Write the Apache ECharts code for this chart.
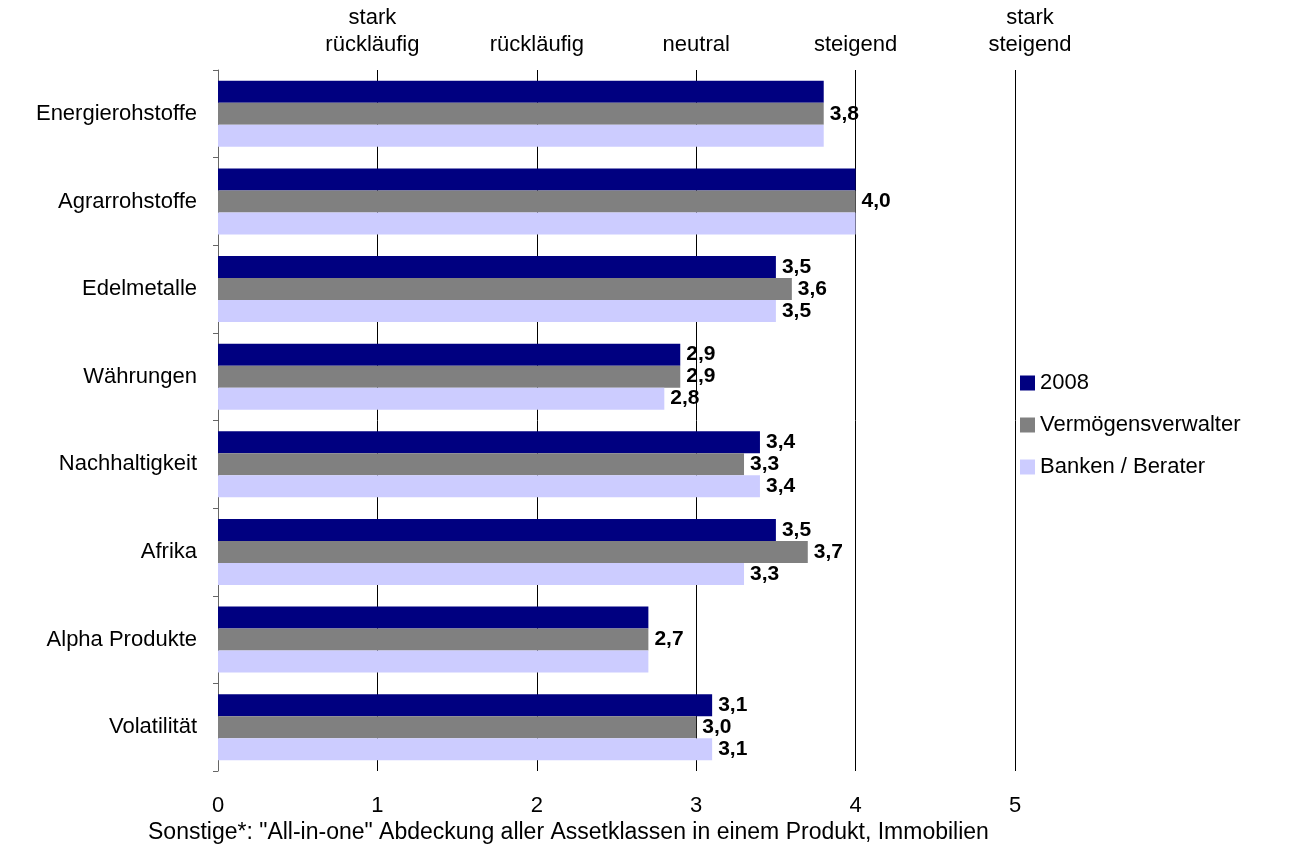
<!DOCTYPE html>
<html><head><meta charset="utf-8">
<script src="https://cdn.jsdelivr.net/npm/echarts@6/dist/echarts.min.js"></script>
<style>html,body{margin:0;padding:0;background:#fff}#c{width:1305px;height:850px}</style>
</head><body><div id="c"></div>
<script>
const categories = ["Energierohstoffe","Agrarrohstoffe","Edelmetalle","Währungen","Nachhaltigkeit","Afrika","Alpha Produkte","Volatilität"];
const seriesNames = ["2008","Vermögensverwalter","Banken / Berater"];
const values2008 = [3.8,4.0,3.5,2.9,3.4,3.5,2.7,3.1];
const valuesVerm = [3.8,4.0,3.6,2.9,3.3,3.7,2.7,3.0];
const valuesBank = [3.8,4.0,3.5,2.8,3.4,3.3,2.7,3.1];
const topLabels = {1:"stark\nrückläufig",2:"rückläufig",3:"neutral",4:"steigend",5:"stark\nsteigend"};
const colors = ["#000080","#808080","#CCCCFF"];
const footnote = 'Sonstige*: "All-in-one" Abdeckung aller Assetklassen in einem Produkt, Immobilien';

const all = [values2008, valuesVerm, valuesBank];
const FONT = "Liberation Sans";
const FS = 22;
function mkData(si){
  return all[si].map((v,i)=>{
    const same = all[0][i]===all[1][i] && all[1][i]===all[2][i];
    const show = same ? si===1 : true;
    return {value:v, label:{show:show}};
  });
}
const chart = echarts.init(document.getElementById('c'));
chart.setOption({
  animation:false,
  textStyle:{fontFamily:FONT},
  grid:{left:218,right:290,top:70,bottom:79,containLabel:false},
  legend:{
    orient:'vertical', left:1015, top:367, itemWidth:15, itemHeight:15, itemGap:20,
    icon:'rect', data:seriesNames,
    textStyle:{fontFamily:FONT,fontSize:FS,color:'#000',padding:[0,0,0,0]}
  },
  xAxis:[{
    type:'value', min:0, max:5, interval:1, position:'bottom',
    axisLine:{show:false}, axisTick:{show:false},
    splitLine:{show:true,lineStyle:{color:'#000',width:1}},
    axisLabel:{fontFamily:FONT,fontSize:FS,color:'#000',margin:24}
  },{
    type:'value', min:0, max:5, interval:1, position:'top',
    axisLine:{show:false}, axisTick:{show:false}, splitLine:{show:false},
    axisLabel:{fontFamily:FONT,fontSize:FS,color:'#000',margin:12,lineHeight:27,
      formatter:v=>{
        const t = topLabels[v]||'';
        if(v===5) return t.split('\n').map(s=>'{r|'+s+'}').join('\n');
        if(v===1) return t.split('\n').map(s=>'{l|'+s+'}').join('\n');
        return t;
      },
      rich:{
        r:{fontFamily:FONT,fontSize:FS,color:'#000',lineHeight:27,padding:[0,0,0,30]},
        l:{fontFamily:FONT,fontSize:FS,color:'#000',lineHeight:27,padding:[0,10,0,0]}
      }}
  }],
  yAxis:{
    type:'category', data:categories, inverse:true,
    axisLine:{show:true,lineStyle:{color:'#666'}},
    axisTick:{show:true,length:5,lineStyle:{color:'#666'}},
    axisLabel:{fontFamily:FONT,fontSize:FS,color:'#000',margin:21}
  },
  series:seriesNames.map((n,si)=>({
    name:n, type:'bar', xAxisIndex:0, barWidth:22, barGap:'0%',
    itemStyle:{color:colors[si]},
    label:{position:'right',distance:6,fontFamily:FONT,fontSize:21,fontWeight:'bold',color:'#000',
      formatter:p=>p.value.toFixed(1).replace('.',',')},
    data:mkData(si)
  })),
  graphic:[{type:'text',left:148,top:821,style:{text:footnote,font:'23px "Liberation Sans"',fill:'#000'}}]
});
</script></body></html>
